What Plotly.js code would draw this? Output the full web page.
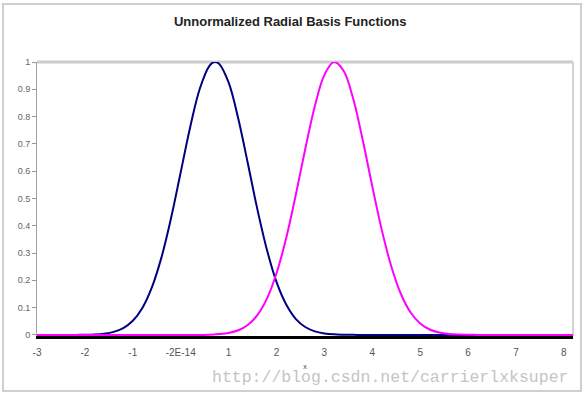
<!DOCTYPE html>
<html>
<head>
<meta charset="utf-8">
<script src="https://cdn.plot.ly/plotly-3.0.1.min.js"></script>
<style>
  html, body { margin: 0; padding: 0; background: #fff; }
  #chart { width: 584px; height: 398px; }
</style>
</head>
<body>
<div id="chart"></div>
<script>
// x sample positions (category values of the source sheet)
const xValues = [-3.0,-2.8,-2.6,-2.4,-2.2,-2.0,-1.8,-1.6,-1.4,-1.2,-1.0,-0.8,-0.6,-0.4,-0.2,0.0,0.2,0.4,0.6,0.7,0.8,1.0,1.2,1.4,1.6,1.8,2.0,2.2,2.4,2.6,2.8,3.0,3.2,3.4,3.6,3.8,4.0,4.2,4.4,4.6,4.8,5.0,5.2,5.4,5.6,5.8,6.0,6.2,6.4,6.6,6.8,7.0,7.2,7.4,7.6,7.8,8.0,8.2];

// first basis function (navy)
const rbf1 = [0,0,0,0,0.0001,0.0006,0.0017,0.0046,0.0112,0.025,0.052,0.099,0.175,0.285,0.429,0.596,0.763,0.903,0.986,1.000,0.994,0.925,0.794,0.630,0.461,0.312,0.194,0.112,0.059,0.029,0.013,0.0055,0.0021,0.0008,0.0002,0,0,0,0,0,0,0,0,0,0,0,0,0,0,0,0,0,0,0,0,0,0,0];

// second basis function (magenta)
const rbf2 = [0,0,0,0,0,0,0,0,0,0,0,0,0,0,0,0,0,0,0.001,0.0018,0.0029,0.0072,0.0169,0.0365,0.0725,0.133,0.226,0.353,0.511,0.681,0.838,0.953,1.000,0.968,0.866,0.714,0.544,0.383,0.249,0.149,0.082,0.042,0.0198,0.0086,0.0035,0.0013,0.0004,0,0,0,0,0,0,0,0,0,0,0];

// axis tick labels
const xTickVals = [-3,-2,-1,0,1,2,3,4,5,6,7,8];
const xTickText = ['-3','-2','-1','-2E-14','1','2','3','4','5','6','7','8'];
const yTickVals = [0,0.1,0.2,0.3,0.4,0.5,0.6,0.7,0.8,0.9,1];
const yTickText = ['0','0.1','0.2','0.3','0.4','0.5','0.6','0.7','0.8','0.9','1'];

const chartTitle = 'Unnormalized Radial Basis Functions';
const xTitle = 'x';
const watermark = 'http://blog.csdn.net/carrierlxksuper';

const traces = [
  { x: xValues, y: rbf1, type: 'scatter', mode: 'lines',
    line: { color: '#000080', width: 2, shape: 'spline', smoothing: 1 },
    hoverinfo: 'skip', showlegend: false, cliponaxis: true },
  { x: xValues, y: rbf2, type: 'scatter', mode: 'lines',
    line: { color: '#ff00ff', width: 2, shape: 'spline', smoothing: 1 },
    hoverinfo: 'skip', showlegend: false, cliponaxis: true }
];

const baseFont = 'Liberation Sans, Arial, sans-serif';

const layout = {
  width: 584, height: 398,
  margin: { l: 37, r: 11, t: 62, b: 62, pad: 0 },
  paper_bgcolor: '#ffffff', plot_bgcolor: '#ffffff',
  showlegend: false,
  title: {
    text: '<b>' + chartTitle + '</b>',
    font: { family: baseFont, size: 13, color: '#222222' },
    xref: 'container', x: 0.497, xanchor: 'center',
    yref: 'container', y: 0.945, yanchor: 'middle'
  },
  xaxis: {
    range: [-3, 8.19],
    tickmode: 'array', tickvals: xTickVals, ticktext: xTickText,
    tickfont: { family: baseFont, size: 10, color: '#555555' },
    showgrid: false, zeroline: false,
    showline: true, linecolor: '#000000', linewidth: 3,
    ticks: '', ticklabelstandoff: 5,
    title: { text: xTitle, font: { family: baseFont, size: 7, color: '#444444' }, standoff: 8 }
  },
  yaxis: {
    range: [-0.004, 1],
    tickmode: 'array', tickvals: yTickVals, ticktext: yTickText,
    tickfont: { family: baseFont, size: 9, color: '#666666' },
    showgrid: false, zeroline: false,
    showline: true, linecolor: '#a0a0a0', linewidth: 1,
    ticks: 'outside', ticklen: 4, tickcolor: '#999999', tickwidth: 1
  },
  shapes: [
    { type: 'line', xref: 'paper', yref: 'paper', x0: 0, x1: 1, y0: 1, y1: 1,
      line: { color: '#cccccc', width: 3 }, layer: 'below' },
    { type: 'line', xref: 'paper', yref: 'paper', x0: 1, x1: 1, y0: 0, y1: 1,
      line: { color: '#d4d4d4', width: 2 }, layer: 'below' },
    { type: 'rect', xref: 'paper', yref: 'paper',
      x0: -0.0634, x1: 1.0149, y0: -0.2007, y1: 1.2117,
      line: { color: '#cfcfcf', width: 2 }, layer: 'below' }
  ],
  annotations: [
    { text: watermark, xref: 'paper', yref: 'paper',
      x: 0.9944, xanchor: 'right', y: -0.153, yanchor: 'middle',
      showarrow: false,
      font: { family: 'Liberation Mono, DejaVu Sans Mono, monospace', size: 16.5, color: '#c4c4c4' } }
  ]
};

Plotly.newPlot('chart', traces, layout, { displayModeBar: false, staticPlot: true });
</script>
</body>
</html>
